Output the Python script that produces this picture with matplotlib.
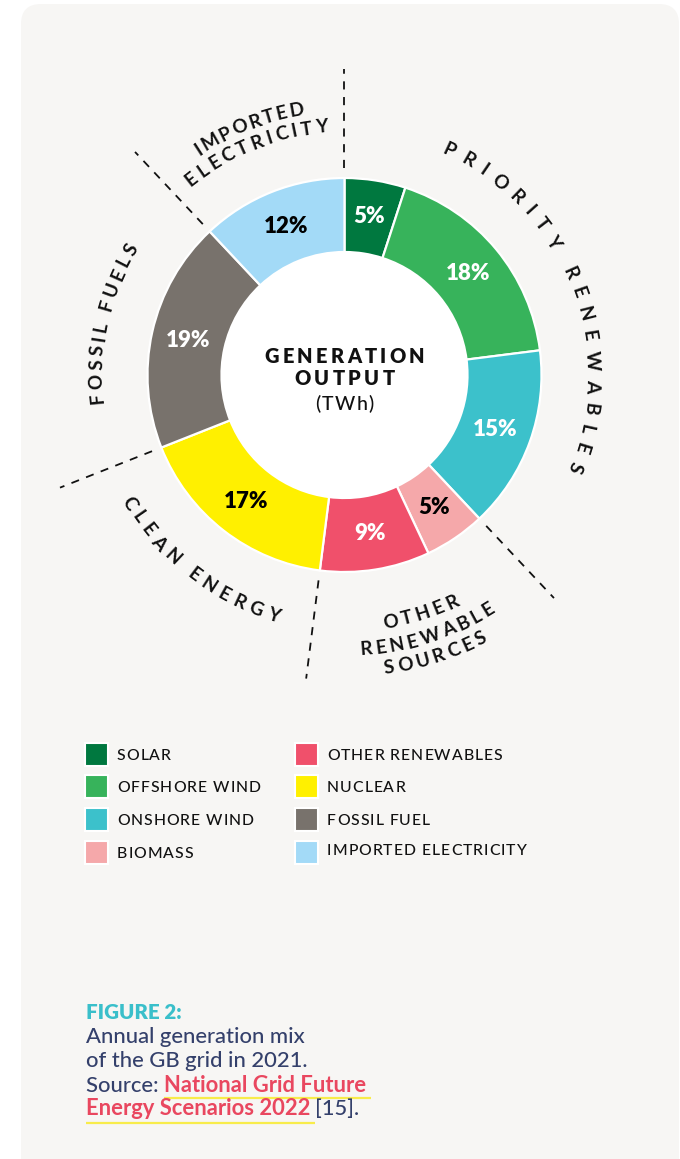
import numpy as np
import matplotlib
matplotlib.use("Agg")
import matplotlib.pyplot as plt
from matplotlib.patches import FancyBboxPatch, Rectangle, Circle
from matplotlib.font_manager import FontProperties, findfont
from matplotlib.ft2font import FT2Font

W, H = 680, 1159
FONT = "Lato"

# generation mix, GB grid 2021 (% of output)
sources = ["SOLAR", "OFFSHORE WIND", "ONSHORE WIND", "BIOMASS",
           "OTHER RENEWABLES", "NUCLEAR", "FOSSIL FUEL", "IMPORTED ELECTRICITY"]
shares = [5, 18, 15, 5, 9, 17, 19, 12]
colors = ["#00783F", "#37B35B", "#3CC1CB", "#F5A8AA",
          "#F0506B", "#FFF000", "#78726C", "#A3DAF7"]
pct_colors = ["white", "white", "white", "black",
              "white", "black", "white", "black"]

# group names around the ring and the source indices each group covers
group_lines = [["PRIORITY RENEWABLES"], ["OTHER", "RENEWABLE", "SOURCES"],
               ["CLEAN ENERGY"], ["FOSSIL FUELS"], ["IMPORTED", "ELECTRICITY"]]
group_first = [0, 3, 5, 6, 7]
group_last = [2, 4, 5, 6, 7]

# ring geometry (pixels)
CX, CY = 344.5, 375
R_OUT, R_IN, R_PCT = 197, 123, 160
# radius and angular span (deg) used for each curved label line
arc_layout = {
    "PRIORITY RENEWABLES": (249, 86.7),
    "OTHER": (250, 14.9), "RENEWABLE": (274, 26.9), "SOURCES": (295, 18.6),
    "CLEAN ENERGY": (249, 42.6),
    "FOSSIL FUELS": (249, 35.8),
    "IMPORTED": (270, 22.7), "ELECTRICITY": (250, 32.7),
}
INK = "#111111"


def advances(text, size, weight="normal"):
    font = FT2Font(findfont(FontProperties(family=FONT, weight=weight)))
    font.set_size(size, 72)
    return [font.load_char(ord(c)).linearHoriAdvance / 65536 for c in text]


def arc_text(ax, text, r, mid_deg, span_deg, size, inward, weight="bold", color=INK):
    w = advances(text, size, weight)
    inner = sum(w) - w[0] / 2 - w[-1] / 2
    track = (np.radians(span_deg) * r - inner) / (len(text) - 1)
    cap = 0.72 * size
    rb = r + cap / 2 if inward else r - cap / 2
    sgn = 1 if inward else -1
    th0 = np.radians(mid_deg) - sgn * np.radians(span_deg) / 2
    s = 0.0
    for i, c in enumerate(text):
        if i > 0:
            s += w[i - 1] / 2 + track + w[i] / 2
        if c == " ":
            continue
        th = th0 + sgn * s / r
        rot = np.degrees(th) + (90 if inward else -90)
        ax.text(CX + rb * np.cos(th), CY - rb * np.sin(th), c, fontsize=size * 0.72,
                family=FONT, weight=weight, color=color, rotation=rot,
                rotation_mode="anchor", ha="center", va="baseline")


def spaced_text(ax, x, y, text, size, track, weight="normal", color=INK, ha="left"):
    w = advances(text, size, weight)
    total = sum(w) + track * (len(text) - 1)
    x0 = x - total / 2 if ha == "center" else x
    for c, wc in zip(text, w):
        if c != " ":
            ax.text(x0 + wc / 2, y, c, fontsize=size * 0.72, family=FONT,
                    weight=weight, color=color, ha="center", va="baseline")
        x0 += wc + track
    return x0


def pixel_axes(fig):
    a = fig.add_axes([0, 0, 1, 1])
    a.set_xlim(0, W)
    a.set_ylim(H, 0)
    a.axis("off")
    return a


fig = plt.figure(figsize=(W / 100, H / 100), dpi=100, facecolor="white")

# background panel
bg = pixel_axes(fig)
bg.add_patch(FancyBboxPatch((21, 4), 658, 1220, boxstyle="round,pad=0,rounding_size=20",
                            facecolor="#F7F6F4", edgecolor="none"))

# donut
axp = fig.add_axes([(CX - R_OUT) / W, 1 - (CY + R_OUT) / H, 2 * R_OUT / W, 2 * R_OUT / H])
wedges, _, pcts = axp.pie(
    shares, colors=colors, startangle=90, counterclock=False, radius=1,
    autopct="%d%%", pctdistance=R_PCT / R_OUT,
    wedgeprops=dict(width=(R_OUT - R_IN) / R_OUT, edgecolor="white", linewidth=1.6),
    textprops=dict(fontsize=16, fontweight="heavy", family=FONT))
for wdg in wedges:
    wdg.set_clip_on(False)
for t, c in zip(pcts, pct_colors):
    t.set_color(c)
axp.add_patch(Circle((0, 0), R_IN / R_OUT, facecolor="white", edgecolor="none", zorder=0))
axp.set_xlim(-1, 1)
axp.set_ylim(-1, 1)
axp.axis("off")

# overlay for text and separators
ax = pixel_axes(fig)

# centre title
spaced_text(ax, CX, 362.7, "GENERATION", 20, 3.3, "heavy", ha="center")
spaced_text(ax, CX, 385.3, "OUTPUT", 20, 3.3, "heavy", ha="center")
spaced_text(ax, CX, 410.5, "(TWh)", 19.5, 1.3, "medium", ha="center")

# group separators and curved group names
total = float(sum(shares))
cum = np.concatenate([[0], np.cumsum(shares)])
for g, lines in enumerate(group_lines):
    th_end = np.radians(90 - 360 * cum[group_last[g] + 1] / total)
    ax.plot([CX + 207 * np.cos(th_end), CX + 306 * np.cos(th_end)],
            [CY - 207 * np.sin(th_end), CY - 306 * np.sin(th_end)],
            color=INK, lw=1.3, linestyle=(0, (4.5, 4.2)))
    mid = 90 - 360 * (cum[group_first[g]] + cum[group_last[g] + 1]) / 2 / total
    inward = np.sin(np.radians(mid)) < 0
    for line in lines:
        r, span = arc_layout[line]
        arc_text(ax, line, r, mid, span, 19, inward, weight="bold")

# legend
leg_x = [85, 295]
leg_y = [754, 786.7, 819.5, 852.5]
for i, (name, col) in enumerate(zip(sources, colors)):
    x, y = leg_x[i // 4], leg_y[i % 4]
    ax.add_patch(Rectangle((x, y - 11.5), 23, 23, facecolor=col, edgecolor="white",
                           lw=1.5, zorder=2))
    spaced_text(ax, x + 32, y + 5.5 - (3 if i == 7 else 0), name, 15.8, 1.0, "medium")

# caption
navy, pink, teal, yellow = "#34406B", "#E9475F", "#3ABFCA", "#F8EC4A"
cap_size = 22
fs = cap_size * 0.72
ax.text(86, 1019, "FIGURE 2:", fontsize=20.5 * 0.72, family=FONT, weight="heavy",
        color=teal, va="baseline")
ax.text(86, 1043.3, "Annual generation mix", fontsize=fs, family=FONT, weight="medium",
        color=navy, va="baseline")
ax.text(86, 1067.3, "of the GB grid in 2021.", fontsize=fs, family=FONT, weight="medium",
        color=navy, va="baseline")
x1 = 86 + sum(advances("Source: ", cap_size, "medium"))
ax.text(86, 1091.7, "Source: ", fontsize=fs, family=FONT, weight="medium", color=navy,
        va="baseline")
ax.text(x1, 1091.7, "National Grid Future", fontsize=fs, family=FONT, color=pink,
        weight="bold", va="baseline")
u1 = x1 + sum(advances("National Grid Future ", cap_size, "bold"))
ax.plot([x1, u1], [1098.3, 1098.3], color=yellow, lw=1.6, solid_capstyle="butt")
ax.text(86, 1115, "Energy Scenarios 2022", fontsize=fs, family=FONT, color=pink,
        weight="bold", va="baseline")
u2 = 86 + sum(advances("Energy Scenarios 2022 ", cap_size, "bold"))
ax.plot([86, u2], [1122.7, 1122.7], color=yellow, lw=1.6, solid_capstyle="butt")
ax.text(u2, 1115, "[15].", fontsize=fs, family=FONT, weight="medium", color=navy,
        va="baseline")

fig.savefig("out.png", dpi=100, facecolor="white")
